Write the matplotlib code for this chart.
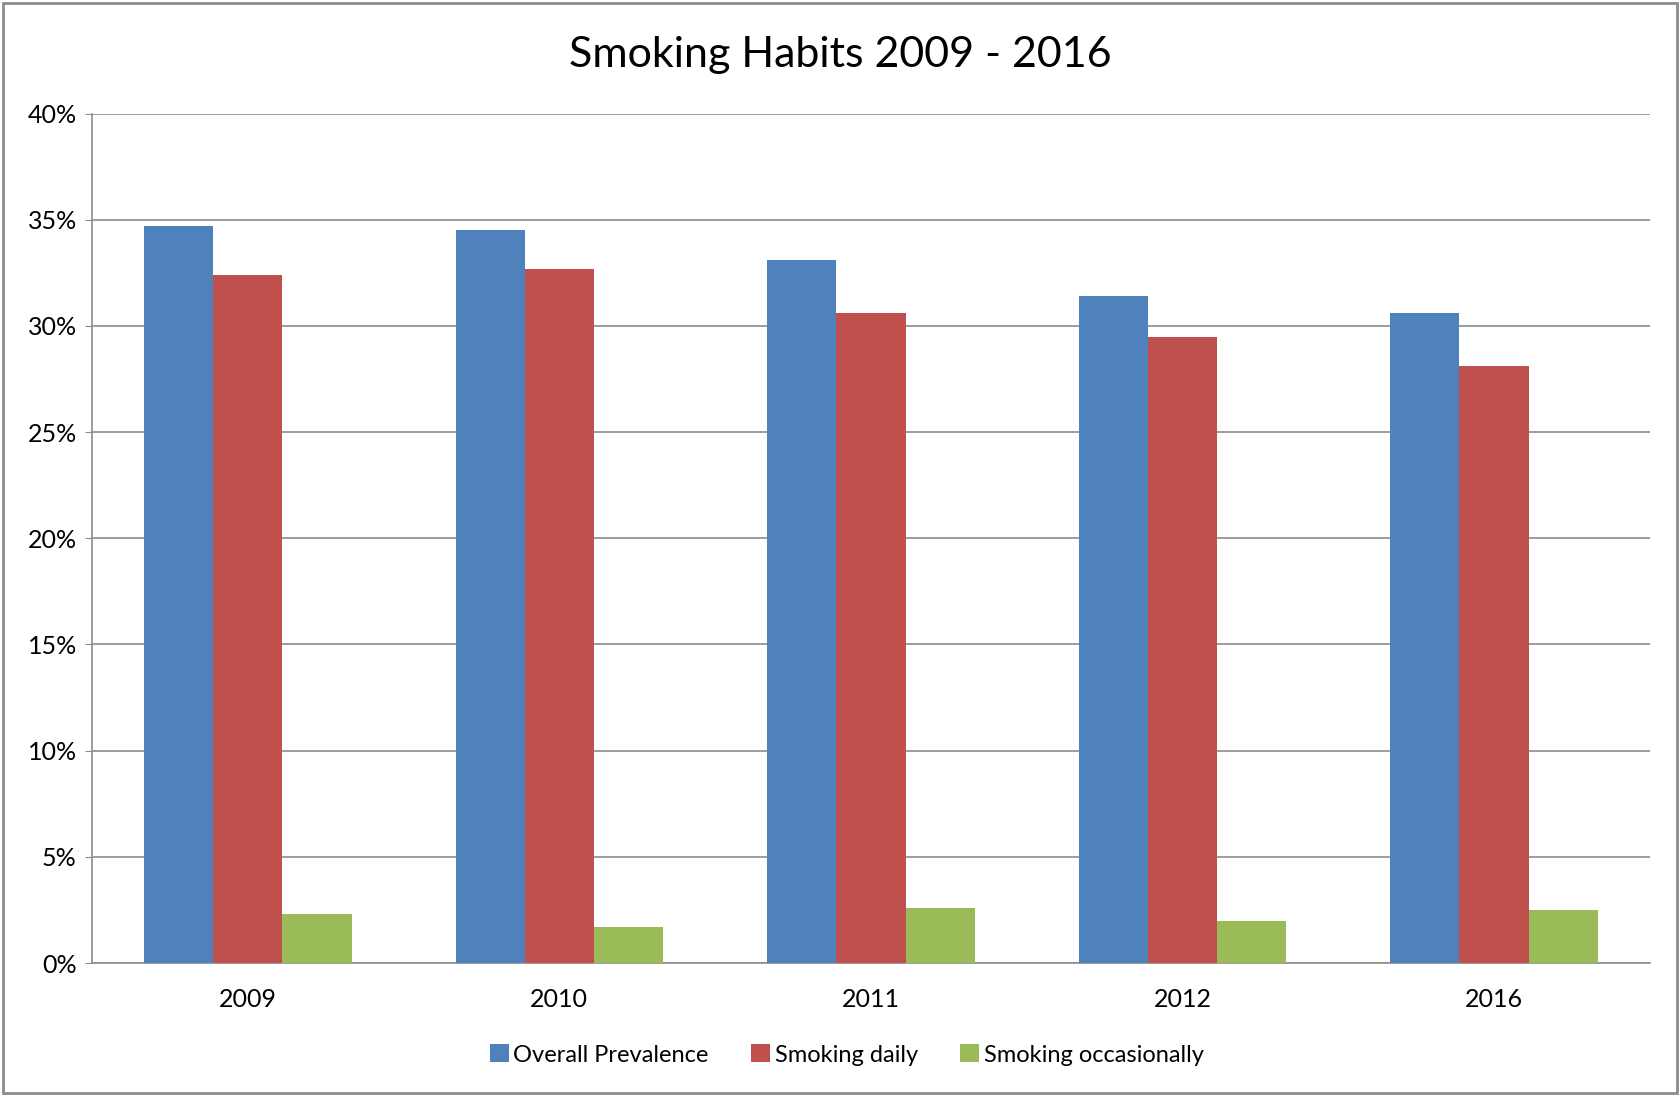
import numpy as np
import matplotlib
matplotlib.use('Agg')
import matplotlib.pyplot as plt
from matplotlib.patches import Rectangle
from matplotlib.ticker import MultipleLocator, FuncFormatter

years = ['2009', '2010', '2011', '2012', '2016']
overall = [34.7, 34.5, 33.1, 31.4, 30.6]
daily = [32.4, 32.7, 30.6, 29.5, 28.1]
occasional = [2.3, 1.7, 2.6, 2.0, 2.5]

series_names = ['Overall Prevalence', 'Smoking daily', 'Smoking occasionally']
colors = ['#4F81BD', '#C0504D', '#9BBB59']

plt.rcParams['font.family'] = ['Lato', 'DejaVu Sans']

fig = plt.figure(figsize=(16.8, 10.96), dpi=100)
ax = fig.add_axes([0.0548, 0.1213, 0.9272, 0.7751])

bar_width = 2 / 9
index = np.arange(len(years))
for i, (vals, name, c) in enumerate(zip([overall, daily, occasional], series_names, colors)):
    ax.bar(index + (i - 1) * bar_width, vals, width=bar_width, color=c,
           label=name, zorder=3)

ax.set_xlim(-0.5, len(years) - 0.5)
ax.set_ylim(0, 40)
ax.yaxis.set_major_locator(MultipleLocator(5))
ax.yaxis.set_major_formatter(FuncFormatter(lambda v, p: '%d%%' % v))
ax.yaxis.grid(True, color='#8c8c8c', linewidth=1.2, zorder=0)
ax.set_xticks(index)
ax.set_xticklabels(years)
ax.tick_params(axis='x', length=0, pad=18, labelsize=18)
ax.tick_params(axis='y', length=5, color='#8c8c8c', pad=6, labelsize=18)
for s in ['top', 'right']:
    ax.spines[s].set_visible(False)
for s in ['left', 'bottom']:
    ax.spines[s].set_color('#8c8c8c')
    ax.spines[s].set_linewidth(1.2)

fig.suptitle('Smoking Habits 2009 - 2016', fontsize=31, y=0.967)

fig.legend(loc='center', bbox_to_anchor=(0.504, 0.0375), ncol=3, frameon=False,
           fontsize=17, handlelength=0.8, handleheight=0.8, handletextpad=0.2,
           columnspacing=1.8)

fig.patches.append(Rectangle((0.002, 0.003), 0.996, 0.994, transform=fig.transFigure,
                             fill=False, edgecolor='#8c8c8c', linewidth=2))

fig.savefig('out.png', dpi=100)
